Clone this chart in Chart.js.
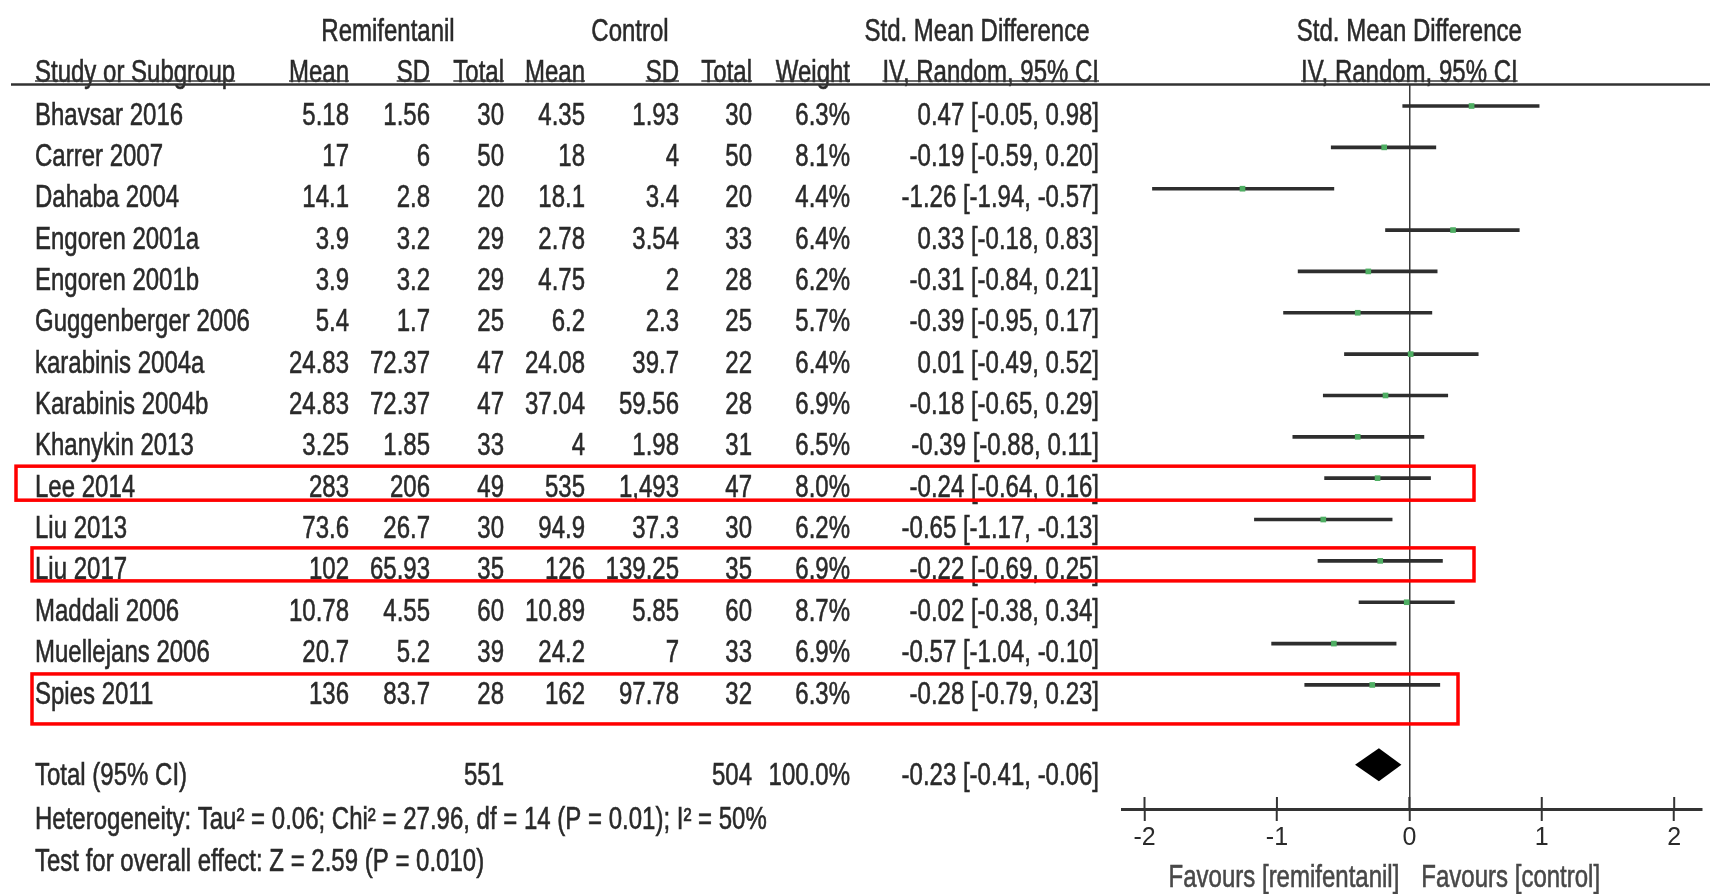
<!DOCTYPE html>
<html>
<head>
<meta charset="utf-8">
<title>Remifentanil vs control – forest plot</title>
<script src="https://cdn.jsdelivr.net/npm/chart.js@4.4.1/dist/chart.umd.min.js"></script>
<style>
  html, body { margin: 0; padding: 0; background: #ffffff; }
  #forest { display: block; }
</style>
</head>
<body>
<canvas id="forest" width="1710" height="894"></canvas>
<script>
// ---- Study data ----
const studies = ["Bhavsar 2016", "Carrer 2007", "Dahaba 2004", "Engoren 2001a", "Engoren 2001b",
  "Guggenberger 2006", "karabinis 2004a", "Karabinis 2004b", "Khanykin 2013", "Lee 2014",
  "Liu 2013", "Liu 2017", "Maddali 2006", "Muellejans 2006", "Spies 2011"];
const remiMean = ["5.18", "17", "14.1", "3.9", "3.9", "5.4", "24.83", "24.83", "3.25", "283", "73.6", "102", "10.78", "20.7", "136"];
const remiSD = ["1.56", "6", "2.8", "3.2", "3.2", "1.7", "72.37", "72.37", "1.85", "206", "26.7", "65.93", "4.55", "5.2", "83.7"];
const remiN = [30, 50, 20, 29, 29, 25, 47, 47, 33, 49, 30, 35, 60, 39, 28];
const ctrlMean = ["4.35", "18", "18.1", "2.78", "4.75", "6.2", "24.08", "37.04", "4", "535", "94.9", "126", "10.89", "24.2", "162"];
const ctrlSD = ["1.93", "4", "3.4", "3.54", "2", "2.3", "39.7", "59.56", "1.98", "1,493", "37.3", "139.25", "5.85", "7", "97.78"];
const ctrlN = [30, 50, 20, 33, 28, 25, 22, 28, 31, 47, 30, 35, 60, 33, 32];
const weights = [6.3, 8.1, 4.4, 6.4, 6.2, 5.7, 6.4, 6.9, 6.5, 8.0, 6.2, 6.9, 8.7, 6.9, 6.3];
const smd = [0.47, -0.19, -1.26, 0.33, -0.31, -0.39, 0.01, -0.18, -0.39, -0.24, -0.65, -0.22, -0.02, -0.57, -0.28];
const ciLow = [-0.05, -0.59, -1.94, -0.18, -0.84, -0.95, -0.49, -0.65, -0.88, -0.64, -1.17, -0.69, -0.38, -1.04, -0.79];
const ciHigh = [0.98, 0.20, -0.57, 0.83, 0.21, 0.17, 0.52, 0.29, 0.11, 0.16, -0.13, 0.25, 0.34, -0.10, 0.23];

// pooled result
const totalRemi = 551;
const totalCtrl = 504;
const totalWeight = 100.0;
const totalSmd = -0.23;
const totalLow = -0.41;
const totalHigh = -0.06;
const heterogeneityText = "Heterogeneity: Tau² = 0.06; Chi² = 27.96, df = 14 (P = 0.01); I² = 50%";
const overallText = "Test for overall effect: Z = 2.59 (P = 0.010)";

// axis
const xTicks = [-2, -1, 0, 1, 2];
const favoursLeft = "Favours [remifentanil]";
const favoursRight = "Favours [control]";

// studies outlined in red
const highlighted = ["Lee 2014", "Liu 2017", "Spies 2011"];

// ---- Layout (pixels) ----
const FONT = '"Liberation Sans", Arial, Helvetica, sans-serif';
const FONT_PX = 24;
const STRETCH_Y = 1.3;
const TEXT_COLOR = "#2a2a2a";
const TEXT_DROP = 10;          // text sits slightly below the CI line of its row
const COL = {
  name: 35, remiMean: 349, remiSD: 430, remiN: 504, ctrlMean: 585,
  ctrlSD: 679, ctrlN: 752, weight: 850, ci: 1099
};
const HEADER1_ROW = -2.02, HEADER2_ROW = -1.04;
const TOTAL_ROW = 15.93, TOTAL_TEXT_ROW = 15.96, HET_ROW = 17.03, TEST_ROW = 18.05;
const BOX_LAYOUT = {
  "Lee 2014":   { left: 16, right: 1474, up: 12, down: 22 },
  "Liu 2017":   { left: 32, right: 1474, up: 13, down: 20 },
  "Spies 2011": { left: 32, right: 1458, up: 11, down: 39 }
};

const fmt2 = v => v.toFixed(2);
const ciLabel = (e, l, h) => fmt2(e) + " [" + fmt2(l) + ", " + fmt2(h) + "]";

function text(ctx, str, x, y, align, color) {
  ctx.save();
  ctx.translate(x, y);
  ctx.scale(1, STRETCH_Y);
  ctx.font = FONT_PX + "px " + FONT;
  ctx.fillStyle = color || TEXT_COLOR;
  ctx.strokeStyle = color || TEXT_COLOR;
  ctx.lineWidth = 0.45;
  ctx.textAlign = align || "left";
  ctx.textBaseline = "middle";
  ctx.fillText(str, 0, 0);
  ctx.strokeText(str, 0, 0);
  const w = ctx.measureText(str).width;
  ctx.restore();
  return w;
}

function underlined(ctx, str, x, y, align) {
  const w = text(ctx, str, x, y, align);
  const x0 = align === "right" ? x - w : (align === "center" ? x - w / 2 : x);
  ctx.save();
  ctx.strokeStyle = "#3a3a3a";
  ctx.lineWidth = 1.5;
  ctx.beginPath();
  ctx.moveTo(x0, 81);
  ctx.lineTo(x0 + w, 81);
  ctx.stroke();
  ctx.restore();
}

const forestTable = {
  id: "forestTable",
  afterDraw(chart) {
    const ctx = chart.ctx;
    const xs = chart.scales.x;
    const ys = chart.scales.y;
    const rowY = r => ys.getPixelForValue(r) + TEXT_DROP;
    const zeroX = xs.getPixelForValue(0);

    // column headers
    const h1 = rowY(HEADER1_ROW), h2 = rowY(HEADER2_ROW);
    text(ctx, "Remifentanil", 388, h1, "center");
    text(ctx, "Control", 630, h1, "center");
    text(ctx, "Std. Mean Difference", 977, h1, "center");
    text(ctx, "Std. Mean Difference", zeroX, h1, "center");
    underlined(ctx, "Study or Subgroup", COL.name, h2, "left");
    underlined(ctx, "Mean", COL.remiMean, h2, "right");
    underlined(ctx, "SD", COL.remiSD, h2, "right");
    underlined(ctx, "Total", COL.remiN, h2, "right");
    underlined(ctx, "Mean", COL.ctrlMean, h2, "right");
    underlined(ctx, "SD", COL.ctrlSD, h2, "right");
    underlined(ctx, "Total", COL.ctrlN, h2, "right");
    underlined(ctx, "Weight", COL.weight, h2, "right");
    underlined(ctx, "IV, Random, 95% CI", COL.ci, h2, "right");
    underlined(ctx, "IV, Random, 95% CI", zeroX, h2, "center");

    // header rule
    ctx.save();
    ctx.strokeStyle = "#333333";
    ctx.lineWidth = 2.5;
    ctx.beginPath();
    ctx.moveTo(11, ys.top + 0.5);
    ctx.lineTo(chart.width, ys.top + 0.5);
    ctx.stroke();
    ctx.restore();

    // study rows
    studies.forEach((s, i) => {
      const y = rowY(i);
      text(ctx, s, COL.name, y, "left");
      text(ctx, remiMean[i], COL.remiMean, y, "right");
      text(ctx, remiSD[i], COL.remiSD, y, "right");
      text(ctx, String(remiN[i]), COL.remiN, y, "right");
      text(ctx, ctrlMean[i], COL.ctrlMean, y, "right");
      text(ctx, ctrlSD[i], COL.ctrlSD, y, "right");
      text(ctx, String(ctrlN[i]), COL.ctrlN, y, "right");
      text(ctx, weights[i].toFixed(1) + "%", COL.weight, y, "right");
      text(ctx, ciLabel(smd[i], ciLow[i], ciHigh[i]), COL.ci, y, "right");
    });

    // pooled row and statistics
    const ty = rowY(TOTAL_TEXT_ROW);
    text(ctx, "Total (95% CI)", COL.name, ty, "left");
    text(ctx, String(totalRemi), COL.remiN, ty, "right");
    text(ctx, String(totalCtrl), COL.ctrlN, ty, "right");
    text(ctx, totalWeight.toFixed(1) + "%", COL.weight, ty, "right");
    text(ctx, ciLabel(totalSmd, totalLow, totalHigh), COL.ci, ty, "right");
    text(ctx, heterogeneityText, COL.name, rowY(HET_ROW), "left");
    text(ctx, overallText, COL.name, rowY(TEST_ROW), "left");

    // pooled diamond
    const dy = ys.getPixelForValue(TOTAL_ROW);
    const dh = ys.getPixelForValue(TOTAL_ROW + 0.4) - dy;
    ctx.save();
    ctx.fillStyle = "#000000";
    ctx.beginPath();
    ctx.moveTo(xs.getPixelForValue(totalLow), dy);
    ctx.lineTo(xs.getPixelForValue(totalSmd), dy - dh);
    ctx.lineTo(xs.getPixelForValue(totalHigh), dy);
    ctx.lineTo(xs.getPixelForValue(totalSmd), dy + dh);
    ctx.closePath();
    ctx.fill();
    ctx.restore();

    // upper half of the axis tick marks
    const axisY = xs.top;
    ctx.save();
    ctx.strokeStyle = "#333333";
    ctx.lineWidth = 2;
    xTicks.forEach(v => {
      const px = xs.getPixelForValue(v);
      ctx.beginPath();
      ctx.moveTo(px, axisY - 12);
      ctx.lineTo(px, axisY);
      ctx.stroke();
    });
    ctx.restore();

    // favours labels
    const fy = axisY + 69;
    text(ctx, favoursLeft, zeroX - 10, fy, "right", "#484848");
    text(ctx, favoursRight, zeroX + 12, fy, "left", "#484848");

    // red outlines around selected studies
    ctx.save();
    ctx.strokeStyle = "#ff0000";
    ctx.lineWidth = 3.5;
    highlighted.forEach(name => {
      const i = studies.indexOf(name);
      const b = BOX_LAYOUT[name];
      const cy = ys.getPixelForValue(i);
      ctx.strokeRect(b.left, cy - b.up, b.right - b.left, b.up + b.down);
    });
    ctx.restore();
  }
};

new Chart(document.getElementById("forest"), {
  type: "scatter",
  data: {
    datasets: [
      {
        type: "bar",
        indexAxis: "y",
        data: studies.map((s, i) => ({ x: [ciLow[i], ciHigh[i]], y: i })),
        backgroundColor: "#2e2e2e",
        borderWidth: 0,
        barThickness: 3,
        order: 2
      },
      {
        type: "scatter",
        data: studies.map((s, i) => ({ x: smd[i], y: i })),
        pointStyle: "rect",
        pointRadius: 4,
        backgroundColor: "#4fae63",
        borderWidth: 0,
        order: 1
      }
    ]
  },
  options: {
    responsive: false,
    animation: false,
    events: [],
    layout: { padding: { left: 1122, right: 8, top: 84, bottom: 0 } },
    plugins: { legend: { display: false }, tooltip: { enabled: false } },
    scales: {
      x: {
        type: "linear",
        position: "bottom",
        offset: false,
        min: -2.17,
        max: 2.21,
        afterBuildTicks: s => { s.ticks = xTicks.map(v => ({ value: v })); },
        afterFit: s => { s.height = 85; },
        border: { display: true, color: "#333333", width: 3 },
        grid: {
          offset: false,
          drawOnChartArea: true,
          color: c => (c.tick && c.tick.value === 0) ? "#3a3a3a" : "rgba(0,0,0,0)",
          lineWidth: 1.5,
          tickColor: "#333333",
          tickWidth: 2,
          tickLength: 12
        },
        ticks: {
          font: { family: FONT, size: 25 },
          color: TEXT_COLOR,
          padding: 2,
          maxRotation: 0,
          autoSkip: false,
          callback: v => String(v)
        }
      },
      y: {
        type: "linear",
        position: "left",
        offset: false,
        grid: { offset: false },
        beginAtZero: false,
        reverse: true,
        min: -0.532,
        max: 17.0,
        display: false
      }
    }
  },
  plugins: [forestTable]
});
</script>
</body>
</html>
